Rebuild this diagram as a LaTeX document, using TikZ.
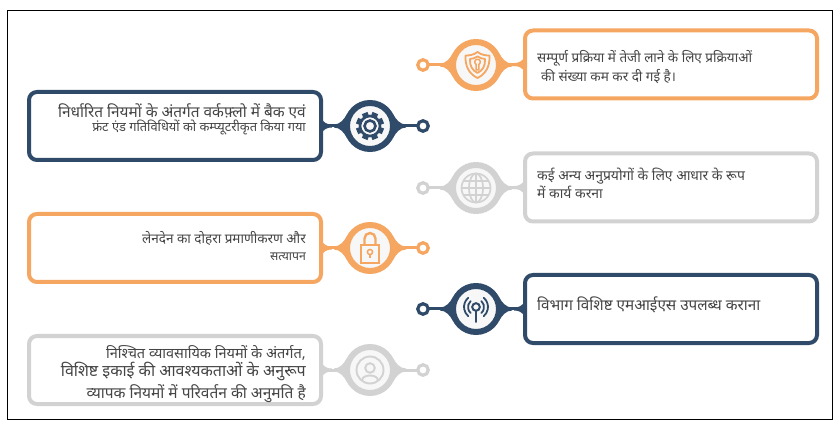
\documentclass[tikz,border=0pt]{standalone}
\usepackage{fontspec}
\usetikzlibrary{backgrounds}
\newfontfamily\hindi[Script=Devanagari]{Noto Sans}
\definecolor{navy}{HTML}{2F4B69}
\definecolor{peach}{HTML}{F5A661}
\definecolor{ash}{HTML}{D2D2D2}
\definecolor{inktext}{HTML}{454545}
\newcommand{\txtsize}[1]{\fontsize{#1}{18}\selectfont}
% lens round a hub, and the foot of the neck on a box
\newcommand{\lensfill}[2]{
  \begin{pgfonlayer}{background}
  \fill[#2,shift={(#1.center)}] (-36,-1.5) .. controls (-30,-1.5) and (-26,-6.5) .. (-23,-12) -- (23,-12) .. controls (26,-6.5) and (30,-1.5) .. (36,-1.5) -- (36,1.5) .. controls (30,1.5) and (26,6.5) .. (23,12) -- (-23,12) .. controls (-26,6.5) and (-30,1.5) .. (-36,1.5) -- cycle;
  \end{pgfonlayer}
}
\newcommand{\footfill}[3]{
  \begin{pgfonlayer}{background}
  \fill[#3,shift={(#1)},xscale=#2] (0,-8) .. controls (3,-3) and (6,-1.5) .. (11,-1.5) -- (11,1.5) .. controls (6,1.5) and (3,3) .. (0,8) -- cycle;
  \end{pgfonlayer}
}
\tikzset{
  box/.style={draw=#1,line width=4,rounded corners=8,fill=white,minimum width=292,minimum height=68,outer sep=0},
  hub/.style={draw=#1,circle,line width=6,fill=black!3,minimum size=46,inner sep=0,outer sep=0},
  ring/.style={draw=#1,circle,line width=3.2,fill=white,minimum size=10.5,inner sep=0,outer sep=0},
  neck/.style={#1,line width=3},
  lefttext/.style={text=inktext,font=\hindi,align=right,anchor=east,inner sep=0},
  righttext/.style={text=inktext,font=\hindi,align=left,anchor=west,inner sep=0},
}
\begin{document}
\begin{tikzpicture}[x=1pt,y=-1pt]
\useasboundingbox (0,0) rectangle (840,427);
\draw[black,line width=1] (7.5,10.5) rectangle (832,419);

\node[box=peach] (shieldbox) at (671,64.5) {};
\node[hub=peach] (shieldhub) at (476,65) {};
\node[ring=peach] (shieldring) at (423,65) {};
\node[box=navy] (gearbox) at (175,126) {};
\node[hub=navy] (gearhub) at (370,126) {};
\node[ring=navy] (gearring) at (423,126) {};
\node[box=ash] (globebox) at (671,187.5) {};
\node[hub=ash] (globehub) at (476,188) {};
\node[ring=ash] (globering) at (423,188) {};
\node[box=peach] (lockbox) at (175,248) {};
\node[hub=peach] (lockhub) at (370,248) {};
\node[ring=peach] (lockring) at (423,248) {};
\node[box=navy] (antennabox) at (671,309) {};
\node[hub=navy] (antennahub) at (476,309) {};
\node[ring=navy] (antennaring) at (423,309) {};
\node[box=ash] (personbox) at (175,370) {};
\node[hub=ash] (personhub) at (370,370) {};
\node[ring=ash] (personring) at (423,370) {};

\node[righttext] (shieldtext) at (537,67) {\txtsize{13.5}सम्पूर्ण प्रक्रिया में तेजी लाने के लिए प्रक्रियाओं\\[1.5pt]\txtsize{13.5}\hspace{4pt}की संख्या कम कर दी गई है।};
\node[lefttext] (geartext) at (306,119) {\txtsize{15.4}निर्धारित नियमों के अंतर्गत वर्कफ़्लो में बैक एवं\\\txtsize{12.85}फ्रंट एंड गतिविधियों को कम्प्यूटरीकृत किया गया};
\node[righttext] (globetext) at (537,183) {\txtsize{13.9}कई अन्य अनुप्रयोगों के लिए आधार के रूप\\[1pt]\txtsize{13.9}में कार्य करना};
\node[lefttext] (locktext) at (306,246.5) {\txtsize{13.5}लेनदेन का दोहरा प्रमाणीकरण और\\[5pt]\txtsize{12.2}सत्यापन};
\node[righttext] (antennatext) at (537,305) {\txtsize{15.3}विभाग विशिष्ट एमआईएस उपलब्ध कराना};
\node[lefttext] (persontext) at (306,374) {\txtsize{14.5}निश्चित व्यावसायिक नियमों के अंतर्गत,\\[1pt]\txtsize{16}विशिष्ट इकाई की आवश्यकताओं के अनुरूप\\[2pt]\txtsize{15.5}व्यापक नियमों में परिवर्तन की अनुमति है};

\draw[neck=peach] (shieldring) -- (shieldhub);
\draw[neck=peach] (shieldhub) -- (shieldbox.west);
\draw[neck=navy] (gearring) -- (gearhub);
\draw[neck=navy] (gearhub) -- (gearbox.east);
\draw[neck=ash] (globering) -- (globehub);
\draw[neck=ash] (globehub) -- (globebox.west);
\draw[neck=peach] (lockring) -- (lockhub);
\draw[neck=peach] (lockhub) -- (lockbox.east);
\draw[neck=navy] (antennaring) -- (antennahub);
\draw[neck=navy] (antennahub) -- (antennabox.west);
\draw[neck=ash] (personring) -- (personhub);
\draw[neck=ash] (personhub) -- (personbox.east);

\lensfill{shieldhub}{peach}
\lensfill{gearhub}{navy}
\lensfill{globehub}{ash}
\lensfill{lockhub}{peach}
\lensfill{antennahub}{navy}
\lensfill{personhub}{ash}
\footfill{shieldbox.west}{-1}{peach}
\footfill{gearbox.east}{1}{navy}
\footfill{globebox.west}{-1}{ash}
\footfill{lockbox.east}{1}{peach}
\footfill{antennabox.west}{-1}{navy}
\footfill{personbox.east}{1}{ash}

% gear
\begin{scope}[shift={(gearhub.center)},navy]
\foreach \a in {0,45,...,315}
  \fill[rotate=\a+22.5] (-3,-14) rectangle (3,-9);
\draw[line width=2.6,fill=black!3] (0,0) circle (10);
\draw[line width=2.6] (0,0) circle (5.5);
\end{scope}

% shield
\begin{scope}[shift={(shieldhub.center)},xshift=1.5,peach,line width=1.8,line join=round]
\draw (0,-13) .. controls (4,-10) and (8,-9.5) .. (12,-9.5) .. controls (12.5,2) and (8,9) .. (0,13) .. controls (-8,9) and (-12.5,2) .. (-12,-9.5) .. controls (-8,-9.5) and (-4,-10) .. cycle;
\draw (0,-8.5) .. controls (2.5,-7) and (5,-6) .. (7.5,-6) .. controls (8,1) and (5,5.5) .. (0,8) .. controls (-5,5.5) and (-8,1) .. (-7.5,-6) .. controls (-5,-6) and (-2.5,-7) .. cycle;
\draw[line width=1.5] (-1.4,-0.6) arc[start angle=120,end angle=420,radius=2.8] -- (1.4,5) -- (-1.4,5) -- cycle;
\end{scope}

% globe
\begin{scope}[shift={(globehub.center)},ash,line width=1.7]
\draw (0,0) circle (14.5);
\draw (0,0) ellipse (7 and 14.5);
\draw (0,-14.5) -- (0,14.5);
\draw (-14.5,0) -- (14.5,0);
\draw (-12.5,-7) -- (12.5,-7);
\draw (-12.5,7) -- (12.5,7);
\end{scope}

% lock
\begin{scope}[shift={(lockhub.center)},peach,line width=1.9]
\draw (-9,-3) rectangle (9,15);
\draw[line width=2.4] (-5.5,-3) -- (-5.5,-9.5) arc[start angle=180,end angle=360,radius=5.5] -- (5.5,-3);
\draw[line width=1.5] (0,4) circle (2.6);
\draw[line width=1.8] (0,6.5) -- (0,10.5);
\end{scope}

% antenna
\begin{scope}[shift={(antennahub.center)},navy,line cap=round]
\draw[line width=2] (0,-2) circle (3.8);
\draw[line width=2.8] (0,2) -- (0,12.7);
\draw[line width=1.8] (-5.35,-7.9) arc[start angle=228,end angle=132,radius=8];
\draw[line width=1.8] (5.35,-7.9) arc[start angle=-48,end angle=48,radius=8];
\draw[line width=1.8] (-7.7,-11.2) arc[start angle=230,end angle=130,radius=12];
\draw[line width=1.8] (7.7,-11.2) arc[start angle=-50,end angle=50,radius=12];
\end{scope}

% person
\begin{scope}[shift={(personhub.center)},ash,line width=1.9]
\draw (0,0) circle (13.5);
\draw (0,-2) circle (4.8);
\draw (-8,10) .. controls (-7,4) and (7,4) .. (8,10);
\end{scope}

\end{tikzpicture}
\end{document}
